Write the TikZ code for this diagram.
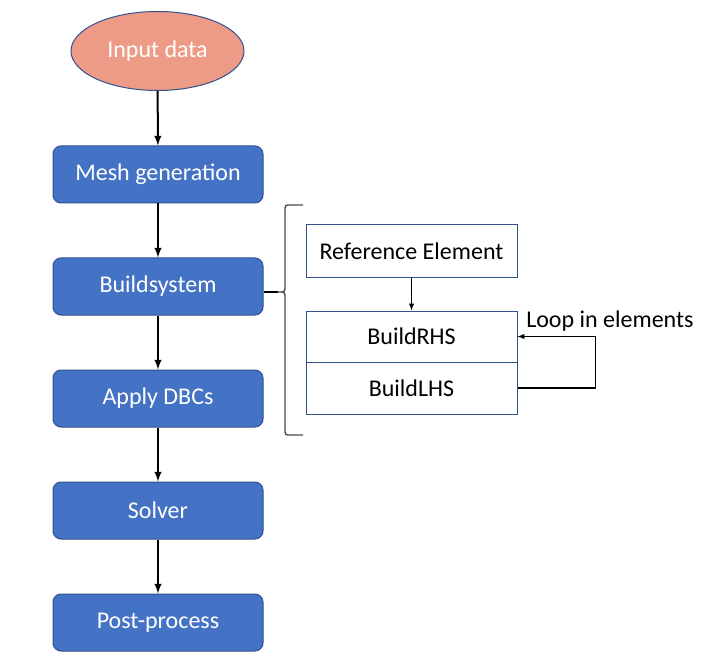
\documentclass[tikz,border=0pt]{standalone}
\usepackage{fontspec}
\setmainfont{Carlito}
\usetikzlibrary{shapes.geometric}
\definecolor{blockblue}{HTML}{4472C4}
\definecolor{edgeblue}{HTML}{2F528F}
\definecolor{inputsalmon}{RGB}{237,155,134}
\tikzset{
    txt/.style={font=\fontsize{18}{21}\selectfont},
    block/.style={txt, draw=edgeblue, line width=0.75pt, fill=blockblue, text=white, rounded corners=6pt, minimum width=157.5pt, minimum height=42.75pt},
    part/.style={txt, draw=edgeblue, line width=0.75pt, fill=white, minimum width=158.25pt},
    flow/.style={->, line width=1.5pt},
    thin/.style={->, line width=0.8pt}
}
\begin{document}
\begin{tikzpicture}[>=latex, x=0.75pt, y=-0.75pt]
\useasboundingbox (0,0) rectangle (725,663);
\node (input) at (157.5,51) [ellipse, txt, draw=edgeblue, line width=0.75pt, fill=inputsalmon, text=white, minimum width=129.75pt, minimum height=59.25pt, inner sep=0pt]{Input data};
\node (mesh) at (158,174.5) [block]{Mesh generation};
\node (build) at (158,286.5) [block]{Buildsystem};
\node (dbc) at (158,398.5) [block]{Apply DBCs};
\node (solver) at (158,510.5) [block]{Solver};
\node (post) at (158,622.5) [block]{Post-process};

\foreach \a/\b in {input/mesh, mesh/build, build/dbc, dbc/solver, solver/post}
{
    \draw[flow] (\a) -- (\b);
}

\node (refel) at (411.5,251) [part, minimum height=39pt]{Reference Element};
\node (rhs) at (411.5,336.5) [part, minimum height=38.25pt]{BuildRHS};
\node (lhs) at (411.5,388) [part, minimum height=39pt]{BuildLHS};
\draw[thin] (refel) -- (rhs);
\draw[thin] (lhs.east) -- ++(78,0) |- (rhs.east);
\node (loop) at (526,327) [txt, anchor=base west, inner sep=0pt]{Loop in elements};

\coordinate (tip) at (278,292);
\draw[line width=1pt, black!70] (303,205) -- (291,205) .. controls (285,205) .. (285,211) -- (285,286)
    .. controls (285,292) .. (tip) .. controls (285,292) .. (285,298) -- (285,429)
    .. controls (285,435) .. (291,435) -- (303,435);
\draw[line width=1pt] (tip) -- (tip -| build.east);
\end{tikzpicture}
\end{document}
